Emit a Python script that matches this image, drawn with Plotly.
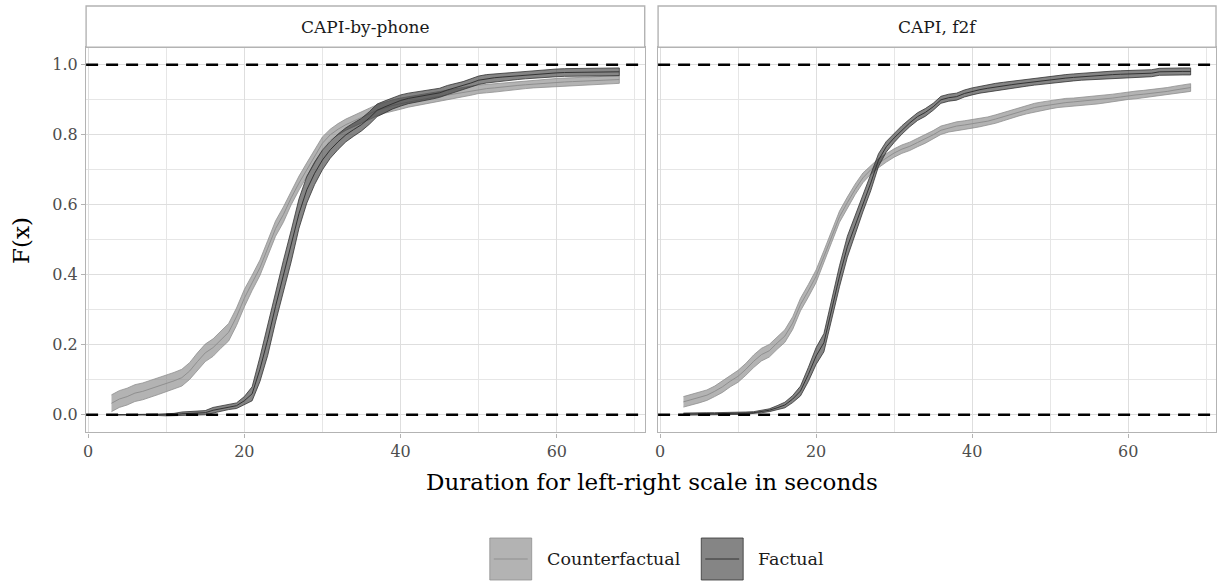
import plotly.graph_objects as go

# ---------------- data ----------------
seconds = list(range(3, 69))  # 3 .. 68

panels = ["CAPI-by-phone", "CAPI, f2f"]
groups = ["Counterfactual", "Factual"]

phone_cf_mean = [0.033, 0.045, 0.052, 0.062, 0.067, 0.074, 0.082, 0.090, 0.097, 0.106,
                 0.125, 0.152, 0.177, 0.192, 0.215, 0.236, 0.280, 0.333, 0.377, 0.420,
                 0.476, 0.532, 0.572, 0.620, 0.662, 0.700, 0.738, 0.776, 0.800, 0.816,
                 0.829, 0.840, 0.850, 0.860, 0.870, 0.878, 0.884, 0.889, 0.894, 0.898,
                 0.902, 0.906, 0.910, 0.914, 0.918, 0.922, 0.926, 0.930, 0.932, 0.934,
                 0.937, 0.939, 0.941, 0.943, 0.945, 0.947, 0.948, 0.950, 0.951, 0.952,
                 0.953, 0.954, 0.955, 0.956, 0.957, 0.958]
phone_cf_hw = [0.024, 0.024, 0.024, 0.024, 0.024, 0.024, 0.024, 0.024, 0.024, 0.024,
               0.024, 0.025, 0.025, 0.025, 0.025, 0.025, 0.025, 0.025, 0.022, 0.022,
               0.022, 0.022, 0.022, 0.020, 0.020, 0.020, 0.018, 0.018, 0.016, 0.016,
               0.016, 0.016, 0.016, 0.016, 0.016, 0.016, 0.016, 0.016, 0.015, 0.015,
               0.014, 0.014, 0.014, 0.013, 0.013, 0.013, 0.013, 0.012, 0.012, 0.012,
               0.012, 0.012, 0.012, 0.011, 0.011, 0.011, 0.011, 0.011, 0.011, 0.011,
               0.011, 0.011, 0.011, 0.011, 0.011, 0.011]

phone_f_mean = [0.000, 0.000, 0.000, 0.000, 0.000, 0.000, 0.000, 0.000, 0.000, 0.003,
                0.004, 0.004, 0.006, 0.013, 0.017, 0.023, 0.026, 0.040, 0.060, 0.130,
                0.215, 0.310, 0.396, 0.482, 0.575, 0.643, 0.690, 0.728, 0.757, 0.780,
                0.800, 0.815, 0.829, 0.848, 0.870, 0.880, 0.890, 0.898, 0.904, 0.908,
                0.912, 0.916, 0.920, 0.928, 0.934, 0.940, 0.948, 0.956, 0.960, 0.963,
                0.965, 0.967, 0.969, 0.971, 0.973, 0.974, 0.976, 0.977, 0.978, 0.978,
                0.979, 0.979, 0.980, 0.980, 0.980, 0.980]
phone_f_hw = [0.000, 0.000, 0.000, 0.000, 0.000, 0.000, 0.002, 0.003, 0.004, 0.005,
              0.005, 0.005, 0.006, 0.008, 0.008, 0.008, 0.008, 0.012, 0.020, 0.035,
              0.045, 0.045, 0.045, 0.045, 0.042, 0.038, 0.032, 0.028, 0.024, 0.022,
              0.020, 0.019, 0.018, 0.018, 0.018, 0.017, 0.016, 0.016, 0.015, 0.015,
              0.014, 0.014, 0.013, 0.013, 0.012, 0.012, 0.012, 0.012, 0.012, 0.011,
              0.011, 0.011, 0.011, 0.011, 0.011, 0.011, 0.011, 0.011, 0.011, 0.011,
              0.011, 0.011, 0.011, 0.011, 0.011, 0.011]

f2f_cf_mean = [0.037, 0.043, 0.049, 0.056, 0.067, 0.080, 0.096, 0.110, 0.130, 0.153,
               0.172, 0.183, 0.205, 0.225, 0.262, 0.315, 0.354, 0.396, 0.452, 0.510,
               0.566, 0.606, 0.644, 0.677, 0.700, 0.719, 0.734, 0.748, 0.759, 0.767,
               0.778, 0.788, 0.800, 0.813, 0.820, 0.825, 0.828, 0.831, 0.835, 0.839,
               0.845, 0.852, 0.858, 0.866, 0.872, 0.878, 0.882, 0.886, 0.890, 0.892,
               0.894, 0.896, 0.897, 0.899, 0.902, 0.905, 0.908, 0.912, 0.914, 0.916,
               0.918, 0.921, 0.924, 0.928, 0.932, 0.935]
f2f_cf_hw = [0.015, 0.015, 0.015, 0.015, 0.015, 0.016, 0.016, 0.017, 0.017, 0.018,
             0.018, 0.018, 0.018, 0.018, 0.018, 0.018, 0.018, 0.018, 0.017, 0.017,
             0.016, 0.016, 0.015, 0.014, 0.013, 0.013, 0.012, 0.012, 0.012, 0.012,
             0.012, 0.012, 0.012, 0.012, 0.012, 0.012, 0.012, 0.012, 0.012, 0.012,
             0.012, 0.012, 0.012, 0.012, 0.012, 0.012, 0.012, 0.012, 0.012, 0.012,
             0.011, 0.011, 0.011, 0.011, 0.011, 0.011, 0.011, 0.011, 0.011, 0.011,
             0.011, 0.011, 0.011, 0.011, 0.011, 0.011]

f2f_f_mean = [0.002, 0.003, 0.003, 0.003, 0.003, 0.003, 0.004, 0.004, 0.005, 0.006,
              0.009, 0.013, 0.020, 0.028, 0.045, 0.068, 0.115, 0.168, 0.206, 0.300,
              0.396, 0.480, 0.540, 0.605, 0.662, 0.728, 0.766, 0.791, 0.814, 0.834,
              0.852, 0.864, 0.880, 0.900, 0.906, 0.909, 0.918, 0.924, 0.929, 0.933,
              0.937, 0.940, 0.943, 0.946, 0.949, 0.952, 0.955, 0.958, 0.960, 0.962,
              0.964, 0.966, 0.968, 0.970, 0.971, 0.972, 0.973, 0.974, 0.975, 0.975,
              0.976, 0.980, 0.981, 0.981, 0.981, 0.981]
f2f_f_hw = [0.003, 0.003, 0.003, 0.003, 0.003, 0.003, 0.003, 0.003, 0.003, 0.003,
            0.003, 0.004, 0.006, 0.008, 0.010, 0.014, 0.020, 0.024, 0.026, 0.030,
            0.030, 0.030, 0.028, 0.025, 0.022, 0.018, 0.015, 0.013, 0.012, 0.011,
            0.011, 0.011, 0.010, 0.010, 0.010, 0.010, 0.010, 0.010, 0.010, 0.010,
            0.010, 0.010, 0.010, 0.010, 0.010, 0.010, 0.010, 0.010, 0.010, 0.010,
            0.010, 0.010, 0.010, 0.010, 0.010, 0.010, 0.010, 0.010, 0.010, 0.010,
            0.010, 0.010, 0.010, 0.010, 0.010, 0.010]

reference_lines = [0, 1]

x_ticks = [0, 20, 40, 60]
y_ticks = [0.0, 0.2, 0.4, 0.6, 0.8, 1.0]

series = {
    (0, "Counterfactual"): (phone_cf_mean, phone_cf_hw),
    (0, "Factual"): (phone_f_mean, phone_f_hw),
    (1, "Counterfactual"): (f2f_cf_mean, f2f_cf_hw),
    (1, "Factual"): (f2f_f_mean, f2f_f_hw),
}

# ---------------- style ----------------
W, H = 1219, 585
FONT = "DejaVu Serif"
fill_col = {"Counterfactual": "rgba(128,128,128,0.6)", "Factual": "rgba(51,51,51,0.6)"}
line_col = {"Counterfactual": "#8f8f8f", "Factual": "#333333"}
border = "#B3B3B3"

def px_x(p):
    return p / W

def px_y(p):
    return 1 - p / H

panel_x = [(83.3, 643.3), (656.7, 1216.0)]
panel_top, panel_bot = 47.3, 432.3
strip_top = 6.0

fig = go.Figure()

for pi in range(2):
    xa = "x" if pi == 0 else "x2"
    ya = "y" if pi == 0 else "y2"
    for g in groups:
        mean, hw = series[(pi, g)]
        upper = [m + h for m, h in zip(mean, hw)]
        lower = [m - h for m, h in zip(mean, hw)]
        fig.add_trace(go.Scatter(
            x=seconds + seconds[::-1], y=upper + lower[::-1],
            fill="toself", fillcolor=fill_col[g], mode="lines",
            line=dict(color=line_col[g], width=0.8),
            xaxis=xa, yaxis=ya, showlegend=False, hoverinfo="skip"))
        fig.add_trace(go.Scatter(
            x=seconds, y=mean, mode="lines",
            line=dict(color=line_col[g], width=1),
            xaxis=xa, yaxis=ya, showlegend=False, name=g))

axis_common = dict(
    showline=True, mirror=True, linecolor=border, linewidth=1.4,
    showgrid=True, gridcolor="#DEDEDE", gridwidth=1, zeroline=False,
    ticks="outside", ticklen=4, tickcolor=border, tickwidth=1,
    tickfont=dict(family=FONT, size=16, color="#4D4D4D"),
)

xrange = [-0.25, 71.25]
yrange = [-0.05, 1.05]

layout_axes = {}
for pi in range(2):
    xk = "xaxis" if pi == 0 else "xaxis2"
    yk = "yaxis" if pi == 0 else "yaxis2"
    layout_axes[xk] = dict(
        axis_common, domain=[px_x(panel_x[pi][0]), px_x(panel_x[pi][1])],
        range=xrange, tickvals=x_ticks, anchor="y" if pi == 0 else "y2",
        minor=dict(dtick=10, tick0=0, showgrid=True, gridcolor="#E6E6E6", gridwidth=0.7, ticks=""))
    yax = dict(
        axis_common, domain=[px_y(panel_bot), px_y(panel_top)],
        range=yrange, tickvals=y_ticks, tickformat=".1f",
        anchor="x" if pi == 0 else "x2",
        minor=dict(dtick=0.1, tick0=0, showgrid=True, gridcolor="#E6E6E6", gridwidth=0.7, ticks=""))
    if pi == 1:
        yax.update(showticklabels=False, ticks="", matches="y")
    layout_axes[yk] = yax

shapes = []
annotations = []
for pi in range(2):
    xa = "x" if pi == 0 else "x2"
    ya = "y" if pi == 0 else "y2"
    for yv in reference_lines:
        shapes.append(dict(type="line", xref=f"{xa} domain", x0=0, x1=1,
                           yref=ya, y0=yv, y1=yv, layer="above",
                           line=dict(color="black", width=2.4, dash="12px,8px")))
    # strip
    shapes.append(dict(type="rect", xref="paper", yref="paper",
                       x0=px_x(panel_x[pi][0]), x1=px_x(panel_x[pi][1]),
                       y0=px_y(panel_top), y1=px_y(strip_top),
                       fillcolor="white", line=dict(color=border, width=1.4)))
    annotations.append(dict(text=panels[pi], xref="paper", yref="paper",
                            x=px_x((panel_x[pi][0] + panel_x[pi][1]) / 2),
                            y=px_y((strip_top + panel_top) / 2),
                            showarrow=False, xanchor="center", yanchor="middle",
                            font=dict(family=FONT, size=17, color="#1A1A1A")))

# axis titles
annotations.append(dict(text="Duration for left-right scale in seconds", xref="paper", yref="paper",
                        x=px_x(650.5), y=px_y(482), showarrow=False,
                        xanchor="center", yanchor="middle",
                        font=dict(family=FONT, size=23, color="black")))
annotations.append(dict(text="F(x)", xref="paper", yref="paper",
                        x=px_x(18), y=px_y(240), showarrow=False, textangle=-90,
                        xanchor="center", yanchor="middle",
                        font=dict(family=FONT, size=23, color="black")))

# legend (drawn manually, ggplot style keys)
legend_keys = [(488, 543), (700, 755)]
key_top, key_bot = 538, 580
for (kx, tx), g in zip(legend_keys, groups):
    shapes.append(dict(type="rect", xref="paper", yref="paper",
                       x0=px_x(kx), x1=px_x(kx + 42), y0=px_y(key_bot), y1=px_y(key_top),
                       fillcolor=fill_col[g], line=dict(color=line_col[g], width=0.8)))
    shapes.append(dict(type="line", xref="paper", yref="paper",
                       x0=px_x(kx + 4), x1=px_x(kx + 38),
                       y0=px_y((key_top + key_bot) / 2), y1=px_y((key_top + key_bot) / 2),
                       line=dict(color=line_col[g], width=1)))
    annotations.append(dict(text=g, xref="paper", yref="paper",
                            x=px_x(tx), y=px_y((key_top + key_bot) / 2),
                            showarrow=False, xanchor="left", yanchor="middle",
                            font=dict(family=FONT, size=17.5, color="#1A1A1A")))

fig.update_layout(
    width=W, height=H, margin=dict(l=0, r=0, t=0, b=0),
    paper_bgcolor="white", plot_bgcolor="white",
    showlegend=False, shapes=shapes, annotations=annotations,
    **layout_axes,
)

fig.write_html("out.html")
